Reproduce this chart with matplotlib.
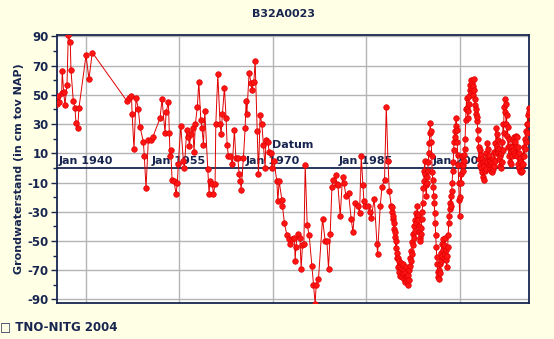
import matplotlib

matplotlib.use("Agg")
import matplotlib.pyplot as plt
from matplotlib.ticker import FixedLocator

# --- data (decimal year, cm tov NAP) ----------------------------------------
years_early = [
    1935.34, 1935.60, 1935.71, 1936.15, 1936.24, 1936.47, 1936.68, 1937.00,
    1937.21, 1937.53, 1937.64, 1938.01, 1938.28, 1938.44, 1938.72, 1938.92,
    1940.05, 1940.53, 1941.06,
]
levels_early = [
    44, 49, 45, 51, 66, 52, 43, 57,
    91, 86, 67, 46, 41, 31, 27, 41,
    77, 61, 79,
]

years_mid = [
    1946.58, 1947.00, 1947.35, 1947.45, 1947.75, 1948.08, 1948.45, 1948.72,
    1949.25, 1949.41, 1949.68, 1950.05, 1950.44, 1950.76, 1951.93, 1952.25,
    1952.73, 1952.90, 1953.27, 1953.43, 1953.54, 1953.65, 1953.86, 1954.18,
    1954.50, 1954.71, 1954.87, 1955.26, 1955.67, 1955.83, 1956.22, 1956.48,
    1956.64, 1956.86, 1957.18, 1957.39, 1957.60, 1957.92, 1958.15, 1958.47,
    1958.68, 1958.89, 1959.11, 1959.59, 1959.80, 1959.91, 1960.33, 1960.49,
    1960.76, 1960.88, 1961.20, 1961.57, 1961.73, 1961.94, 1962.26, 1962.53,
    1962.69, 1962.90, 1963.17, 1963.54, 1963.86, 1964.09, 1964.41, 1964.62,
    1964.83, 1964.94, 1965.31, 1965.58, 1965.74, 1965.86, 1966.22, 1966.55,
    1966.66, 1966.98, 1967.19, 1967.51, 1967.72, 1967.99, 1968.27, 1968.52,
    1968.79, 1968.91, 1969.23, 1969.44, 1969.76, 1969.87, 1970.19, 1970.67,
    1970.83, 1971.04, 1971.48, 1971.57, 1971.89, 1972.28, 1972.65, 1972.86,
    1973.08, 1973.50, 1973.61, 1973.72, 1974.05, 1974.37, 1974.57, 1974.78,
    1975.01, 1975.22, 1975.54, 1975.86, 1976.29, 1976.55, 1976.82, 1976.98,
    1977.35, 1978.00, 1978.43, 1978.70, 1978.96, 1979.23, 1979.51, 1979.76,
    1980.15, 1980.25, 1980.47, 1980.84, 1981.21, 1981.43, 1981.75, 1982.17,
    1982.60, 1982.88, 1983.25, 1983.68, 1983.94, 1984.21, 1984.48, 1984.64,
    1984.85, 1985.29, 1985.66, 1985.82, 1986.30, 1986.73, 1986.83, 1987.26,
    1987.54, 1987.95, 1988.23, 1988.50, 1988.71,
]
levels_mid = [
    46, 48, 49, 37, 13, 48, 40, 28,
    18, 8, -14, 19, 19, 21, 34, 47,
    24, 38, 45, 24, 8, 12, -8, -9,
    -18, -10, 3, 29, 5, 0, 26, 21,
    15, 23, 27, 11, 30, 42, 59, 33,
    27, 16, 39, -1, -18, -9, -11, -18,
    -11, 30, 64, 30, 23, 37, 55, 34,
    16, 8, 8, 3, 26, 7, 7, -4,
    -9, -15, 7, 27, 46, 37, 65, 58,
    53, 59, 73, 25, -4, 36, 30, 16,
    0, 19, 18, 11, 10, 0, 5, -9,
    -23, -9, -22, -26, -38, -46, -49, -52,
    -49, -48, -64, -54, -45, -48, -69, -53,
    -52, 2, -39, -46, -67, -80, -93, -80,
    -76, -35, -50, -50, -69, -45, -13, -8,
    -5, -11, -12, -33, -6, -10, -19, -17,
    -35, -44, -24, -26, -31, 8, -12, -23,
    -26, -26, -30, -34, -21, -52, -59, -26,
    -13, -8, 42, 5, -16,
]

# frequent readings from 1989 on
years_late = [
    1989.03, 1989.12, 1989.20, 1989.28, 1989.36, 1989.44, 1989.52, 1989.60,
    1989.68, 1989.76, 1989.84, 1989.92, 1990.00, 1990.08, 1990.16, 1990.24,
    1990.32, 1990.40, 1990.48, 1990.56, 1990.64, 1990.72, 1990.80, 1990.88,
    1990.96, 1991.04, 1991.12, 1991.20, 1991.28, 1991.36, 1991.44, 1991.52,
    1991.60, 1991.68, 1991.76, 1991.84, 1991.92, 1992.00, 1992.08, 1992.16,
    1992.24, 1992.32, 1992.40, 1992.48, 1992.56, 1992.64, 1992.72, 1992.80,
    1992.88, 1992.96, 1993.04, 1993.12, 1993.20, 1993.28, 1993.36, 1993.44,
    1993.52, 1993.60, 1993.68, 1993.76, 1993.84, 1993.92, 1994.00, 1994.08,
    1994.16, 1994.24, 1994.32, 1994.40, 1994.48, 1994.56, 1994.64, 1994.72,
    1994.80, 1994.88, 1994.96, 1995.04, 1995.12, 1995.20, 1995.28, 1995.36,
    1995.44, 1995.52, 1995.60, 1995.68, 1995.76, 1995.84, 1995.92, 1996.00,
    1996.08, 1996.16, 1996.24, 1996.32, 1996.40, 1996.48, 1996.56, 1996.64,
    1996.72, 1996.80, 1996.88, 1996.96, 1997.04, 1997.12, 1997.20, 1997.28,
    1997.36, 1997.44, 1997.52, 1997.60, 1997.68, 1997.76, 1997.84, 1997.92,
    1998.00, 1998.08, 1998.16, 1998.24, 1998.32, 1998.40, 1998.48, 1998.56,
    1998.64, 1998.72, 1998.80, 1998.88, 1998.96, 1999.04, 1999.12, 1999.20,
    1999.28, 1999.36, 1999.44, 1999.52, 1999.60, 1999.68, 1999.76, 1999.84,
    1999.92, 2000.00, 2000.08, 2000.16, 2000.24, 2000.32, 2000.40, 2000.48,
    2000.56, 2000.64, 2000.72, 2000.80, 2000.88, 2000.96, 2001.04, 2001.12,
    2001.20, 2001.28, 2001.36, 2001.44, 2001.52, 2001.60, 2001.68, 2001.76,
    2001.84, 2001.92, 2002.00, 2002.08, 2002.16, 2002.24, 2002.32, 2002.40,
    2002.48, 2002.56, 2002.64, 2002.72, 2002.80, 2002.88, 2002.96,
    2003.05, 2003.12, 2003.20, 2003.28, 2003.36, 2003.44, 2003.52, 2003.60,
    2003.68, 2003.76, 2003.84, 2003.92, 2004.01, 2004.09, 2004.17, 2004.25,
    2004.33, 2004.41, 2004.49, 2004.57, 2004.65, 2004.73, 2004.81, 2004.89,
    2004.97, 2005.05, 2005.13, 2005.21, 2005.29, 2005.37, 2005.45, 2005.53,
    2005.61, 2005.69, 2005.77, 2005.85, 2005.93, 2006.01, 2006.09, 2006.17,
    2006.25, 2006.33, 2006.41, 2006.49, 2006.57, 2006.65, 2006.73, 2006.81,
    2006.89, 2006.97, 2007.05, 2007.13, 2007.21, 2007.29, 2007.37, 2007.45,
    2007.53, 2007.61, 2007.69, 2007.77, 2007.85, 2007.93, 2008.01, 2008.09,
    2008.17, 2008.25, 2008.33, 2008.41, 2008.49, 2008.57, 2008.65, 2008.73,
    2008.81, 2008.89, 2008.97, 2009.05, 2009.13, 2009.21, 2009.29, 2009.37,
    2009.45, 2009.53, 2009.61, 2009.69, 2009.77, 2009.85, 2009.93, 2010.01,
    2010.09, 2010.17, 2010.25, 2010.33, 2010.41, 2010.49, 2010.57, 2010.65,
    2010.73, 2010.81, 2010.89, 2010.97, 2011.05, 2011.10,
]
levels_late = [
    -26, -30, -27, -35, -33, -42, -38, -47,
    -44, -55, -50, -62, -58, -68, -62, -71,
    -64, -74, -68, -73, -65, -75, -69, -72,
    -66, -76, -70, -78, -72, -75, -68, -74,
    -77, -80, -73, -77, -70, -67, -62, -64,
    -57, -59, -51, -53, -45, -48, -40, -43,
    -36, -38, -31, -33, -26, -32, -36, -40,
    -44, -48, -50, -45, -41, -35, -30, -24,
    -14, -9, -2, 5, -4, -12, -19, -10,
    -6, -2, 4, 10, 17, 24, 31, 25,
    18, 8, -3, -8, -13, -19, -24, -31,
    -38, -46, -54, -61, -66, -71, -75, -70,
    -76, -66, -72, -58, -64, -52, -60, -49,
    -56, -62, -53, -59, -48, -56, -63, -68,
    -60, -54, -46, -38, -33, -28, -24, -19,
    -26, -16, -10, -2, 4, 12, 18, 25,
    21, 29, 34, 26, 18, 9, 2, -10,
    -22, -33, -20, -4, -10, 3, 8, 2,
    -2, 5, 9, 13, 20, 33, 40, 48,
    41, 34, 39, 44, 49, 53, 57, 52,
    60, 54, 58, 50, 56, 61, 53, 47,
    43, 37, 40, 32, 35, 26, 20,
    14, 6, 12, 2, 9, 0, 6, -3,
    4, -6, 1, -8, -2, 5, -1, 10,
    4, 17, 8, 13, 3, 9, -1, 5,
    -2, 3, -3, 4, -1, 6, 1, 11,
    5, 17, 10, 27, 15, 23, 11, 19,
    6, 13, 1, 8, 0, 10, 4, 18,
    12, 30, 24, 42, 47, 38, 44, 30,
    36, 22, 28, 14, 20, 8, 15, 4,
    11, 3, 14, 8, 19, 12, 21, 10,
    18, 9, 22, 14, 21, 8, 14, 3,
    10, 0, 7, -2, 4, -3, 2, -2,
    8, 3, 14, 8, 20, 13, 25, 18,
    30, 24, 36, 30, 41, 38,
]

y_major = [-90, -70, -50, -30, -10, 10, 30, 50, 70, 90]
y_minor = [-80, -60, -40, -20, 0, 20, 40, 60, 80]
x_grid_years = [1940, 1955, 1970, 1985, 2000]
x_grid_labels = ["Jan 1940", "Jan 1955", "Jan 1970", "Jan 1985", "Jan 2000"]

# --- styling -----------------------------------------------------------------
BG = "#ffffe6"
NAVY = "#18264f"
GRID = "#b4b4b4"
RED = "#ff1414"
LINE_RED = "#e00000"

plt.rcParams["font.family"] = ["DejaVu Sans"]
plt.rcParams["axes.unicode_minus"] = False

fig = plt.figure(figsize=(5.54, 3.39), dpi=100, facecolor=BG)
ax = fig.add_axes([0.1029, 0.1062, 0.852, 0.7906])
ax.set_facecolor("white")

years = years_early + years_mid + years_late
levels = levels_early + levels_mid + levels_late

for gx in x_grid_years:
    ax.axvline(gx, color=GRID, lw=1.0, zorder=1)
for gy in y_major:
    ax.axhline(gy, color=GRID, lw=1.0, zorder=1)
ax.axhline(0, color=NAVY, lw=1.3, zorder=2)

# labels sit under the data, as in the reference
for gx, lab in zip(x_grid_years, x_grid_labels):
    ax.text(gx, 2.5, lab, ha="center", va="baseline", fontsize=8,
            fontweight="bold", color=NAVY, zorder=2.5)
ax.text(1969.9, 13.4, "Datum", ha="left", va="baseline", fontsize=8,
        fontweight="bold", color=NAVY, zorder=2.5)

ax.plot(years, levels, color=LINE_RED, lw=0.7, zorder=3)
ax.plot(years, levels, ls="none", marker="o", ms=4.0,
        mfc=RED, mec="#e00000", mew=0.5, zorder=4)

ax.set_xlim(1935.4, 2011.13)
ax.set_ylim(-92.5, 91.0)
ax.yaxis.set_major_locator(FixedLocator(y_major))
ax.yaxis.set_minor_locator(FixedLocator(y_minor))
ax.set_xticks([])
ax.tick_params(axis="y", which="major", length=4, width=1.0, color=NAVY,
               labelsize=8.5, labelcolor=NAVY, pad=2)
ax.tick_params(axis="y", which="minor", length=3, width=1.0, color=NAVY)
for lab in ax.get_yticklabels():
    lab.set_fontweight("bold")
for sp in ax.spines.values():
    sp.set_color(NAVY)
    sp.set_linewidth(1.3)

fig.text(0.034, 0.504, "Grondwaterstand (in cm tov NAP)", rotation=90,
         ha="center", va="center", fontsize=8, fontweight="bold", color=NAVY)
fig.text(0.5114, 0.9507, "B32A0023", ha="center", va="baseline", fontsize=8,
         fontweight="bold", color=NAVY)
fig.text(0.0, 0.025, "\u25a1 TNO-NITG 2004", ha="left", va="baseline",
         fontsize=8.5, fontweight="bold", color=NAVY)

fig.savefig("out.png", dpi=100, facecolor=BG)
